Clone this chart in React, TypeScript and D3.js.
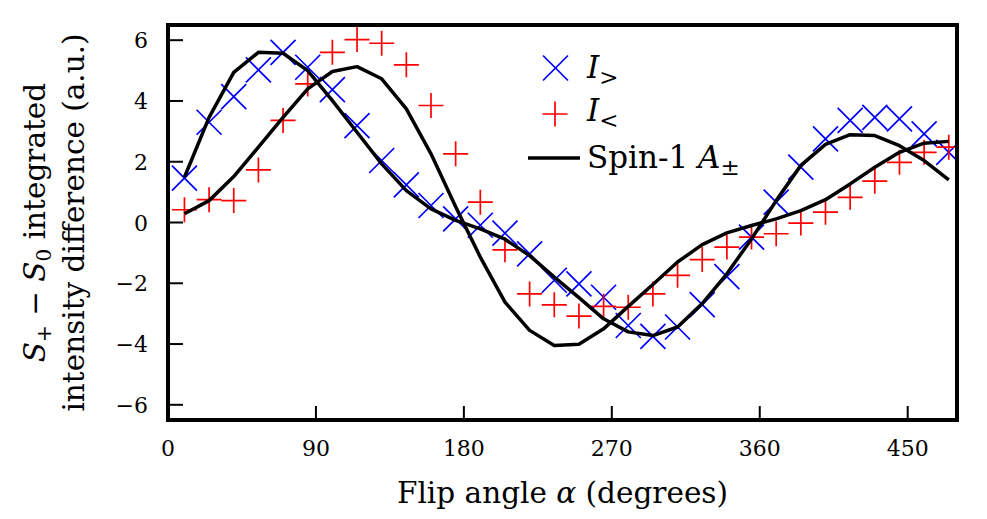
import * as d3 from "d3";

// flip angles (degrees) at which both intensity differences were measured
const angles = [
  10, 25, 40, 55, 70, 85, 100, 115, 130, 145, 160, 175, 190, 205, 220, 235,
  250, 265, 280, 295, 310, 325, 340, 355, 370, 385, 400, 415, 430, 445, 460, 475,
];

// I_> (blue crosses)
const iGreater = [
  1.46, 3.3, 4.14, 5.02, 5.6, 5.11, 4.37, 3.19, 2.04, 1.24, 0.56, 0.12, -0.09,
  -0.35, -1.03, -1.9, -2.02, -2.46, -3.39, -3.75, -3.44, -2.7, -1.78, -0.48,
  0.67, 1.82, 2.75, 3.36, 3.46, 3.41, 2.92, 2.31,
];

// I_< (red pluses)
const iLess = [
  0.42, 0.75, 0.72, 1.73, 3.36, 4.56, 5.6, 6.02, 5.9, 5.19, 3.85, 2.26, 0.67,
  -0.9, -2.35, -2.71, -3.08, -2.76, -2.79, -2.35, -1.74, -1.22, -0.81, -0.48,
  -0.37, -0.02, 0.34, 0.83, 1.36, 1.98, 2.31, 2.48,
];

// spin-1 model curves (black)
const spinGreater = [
  1.49, 3.46, 4.94, 5.6, 5.57, 5.0, 4.01, 2.97, 1.93, 1.05, 0.45, 0.07, -0.21,
  -0.55, -1.09, -1.8, -2.47, -3.17, -3.6, -3.72, -3.44, -2.67, -1.69, -0.54,
  0.72, 1.88, 2.57, 2.89, 2.86, 2.53, 2.04, 1.4,
];
const spinLess = [
  0.29, 0.72, 1.51, 2.48, 3.46, 4.4, 4.97, 5.13, 4.73, 3.74, 2.26, 0.52, -1.14,
  -2.62, -3.55, -4.05, -4.01, -3.5, -2.76, -2.04, -1.3, -0.73, -0.34, -0.1,
  0.12, 0.39, 0.75, 1.27, 1.82, 2.31, 2.61, 2.67,
];

const xTicks = [0, 90, 180, 270, 360, 450];
const yTicks = [-6, -4, -2, 0, 2, 4, 6];

const FONT = "'DejaVu Serif', serif";
const CROSS = "M-12.5,-12.5L12.5,12.5M-12.5,12.5L12.5,-12.5";
const PLUS = "M-12.5,0H12.5M0,-12.5V12.5";

export default function App() {
  const width = 987;
  const height = 519;
  const x = d3.scaleLinear([0, 480], [168, 957]);
  const y = d3.scaleLinear([-6.5, 6.5], [420, 25]);
  const [x0, x1] = x.range();
  const [y0, y1] = y.range();

  const line = d3
    .line<number>()
    .x((_, i) => x(angles[i]))
    .y((d) => y(d));

  const fmt = (v: number) => (v < 0 ? `\u2212${-v}` : `${v}`);

  return (
    <svg
      width={width}
      height={height}
      style={{ position: "absolute", left: 0, top: 0, background: "white" }}
      fontFamily={FONT}
    >
      <defs>
        <clipPath id="plot">
          <rect x={x0} y={y1} width={x1 - x0} height={y0 - y1} />
        </clipPath>
      </defs>

      <g clipPath="url(#plot)">
        <g stroke="#0000ff" strokeWidth={1.7} fill="none">
          {iGreater.map((d, i) => (
            <path key={i} d={CROSS} transform={`translate(${x(angles[i])},${y(d)})`} />
          ))}
        </g>
        <g stroke="#ff0000" strokeWidth={1.7} fill="none">
          {iLess.map((d, i) => (
            <path key={i} d={PLUS} transform={`translate(${x(angles[i])},${y(d)})`} />
          ))}
        </g>
        <g stroke="black" strokeWidth={3.5} fill="none" strokeLinejoin="round">
          <path d={line(spinGreater) || undefined} />
          <path d={line(spinLess) || undefined} />
        </g>
      </g>

      {/* ticks, pointing inward */}
      <g stroke="black" strokeWidth={2}>
        {xTicks.map((t) => (
          <line key={t} x1={x(t)} x2={x(t)} y1={y0} y2={y0 - 14} />
        ))}
        {yTicks.map((t) => (
          <line key={t} x1={x0} x2={x0 + 15} y1={y(t)} y2={y(t)} />
        ))}
      </g>
      <rect
        x={x0}
        y={y1}
        width={x1 - x0}
        height={y0 - y1}
        fill="none"
        stroke="black"
        strokeWidth={4}
      />

      <g fontSize={22} fill="black">
        {xTicks.map((t) => (
          <text key={t} x={x(t)} y={456} textAnchor="middle">
            {t}
          </text>
        ))}
        {yTicks.map((t) => (
          <text key={t} x={148} y={y(t) + 8} textAnchor="end">
            {fmt(t)}
          </text>
        ))}
      </g>

      <text x={(x0 + x1) / 2} y={503} fontSize={29.5} textAnchor="middle">
        Flip angle <tspan fontStyle="italic">α</tspan> (degrees)
      </text>

      <g transform={`translate(45,${(y0 + y1) / 2}) rotate(-90)`} fontSize={29.5}>
        <text textAnchor="middle">
          <tspan fontStyle="italic">S</tspan>
          <tspan fontSize={20} dy={6}>+</tspan>
          <tspan dy={-6}> − </tspan>
          <tspan fontStyle="italic">S</tspan>
          <tspan fontSize={20} dy={6}>0</tspan>
          <tspan dy={-6}> integrated</tspan>
        </text>
        <text y={39} textAnchor="middle">
          intensity difference (a.u.)
        </text>
      </g>

      {/* legend */}
      <g fontSize={31}>
        <path d={CROSS} transform="translate(555.5,68)" stroke="#0000ff" strokeWidth={1.7} />
        <text x={587} y={78}>
          <tspan fontStyle="italic">I</tspan>
          <tspan fontSize={23} dy={7}>&gt;</tspan>
        </text>
        <path d={PLUS} transform="translate(555,114)" stroke="#ff0000" strokeWidth={1.7} />
        <text x={587} y={121}>
          <tspan fontStyle="italic">I</tspan>
          <tspan fontSize={23} dy={7}>&lt;</tspan>
        </text>
        <line x1={528} x2={580} y1={158} y2={158} stroke="black" strokeWidth={3.5} />
        <text x={587} y={168}>
          Spin-1 <tspan fontStyle="italic">A</tspan>
          <tspan fontSize={23} dy={7}>±</tspan>
        </text>
      </g>
    </svg>
  );
}
